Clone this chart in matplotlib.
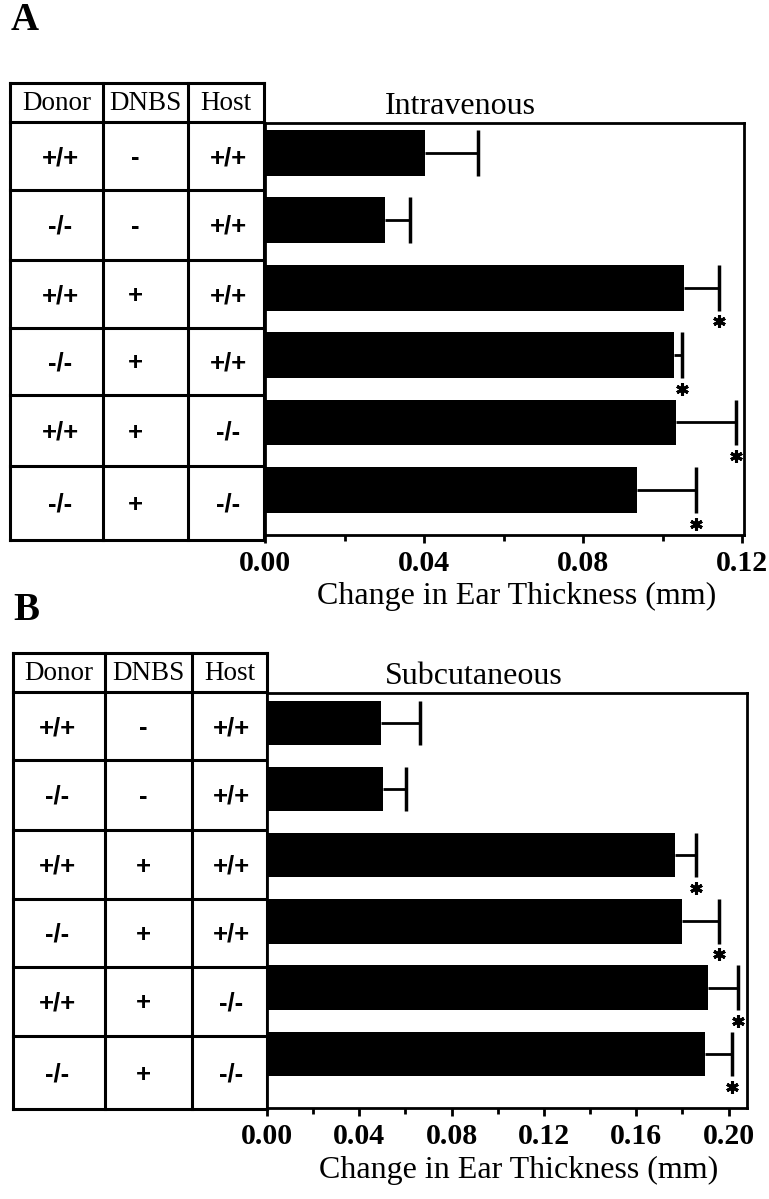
import matplotlib
matplotlib.use("Agg")
import matplotlib.pyplot as plt
from matplotlib.ticker import MultipleLocator, FormatStrFormatter

# table columns
headers = ["Donor", "DNBS", "Host"]
donor = ["+/+", "-/-", "+/+", "-/-", "+/+", "-/-"]
dnbs = ["-", "-", "+", "+", "+", "+"]
host = ["+/+", "+/+", "+/+", "+/+", "-/-", "-/-"]

# A - intravenous
iv_mean = [0.0402, 0.0302, 0.1055, 0.1028, 0.1033, 0.0935]
iv_err = [0.0133, 0.0062, 0.0088, 0.0020, 0.0153, 0.0150]
iv_sig = [False, False, True, True, True, True]

# B - subcutaneous
sc_mean = [0.0495, 0.0503, 0.1770, 0.1800, 0.1909, 0.1896]
sc_err = [0.0169, 0.0100, 0.0087, 0.0160, 0.0130, 0.0117]
sc_sig = [False, False, True, True, True, True]

W, H = 769, 1199
SERIF = "Liberation Serif"
SANS = "Liberation Sans"

fig = plt.figure(figsize=(W / 100, H / 100), dpi=100)

# pixel overlay for the tables and panel letters
ov = fig.add_axes([0, 0, 1, 1])
ov.set_xlim(0, W)
ov.set_ylim(H, 0)
ov.axis("off")


def draw_table(cols, rows, xoff):
    # cols: x of vertical lines, rows: y of horizontal lines (first = top of header)
    for x in cols:
        ov.plot([x, x], [rows[0], rows[-1]], color="black", lw=2.2, solid_capstyle="projecting")
    for y in rows:
        ov.plot([cols[0], cols[-1]], [y, y], color="black", lw=2.2, solid_capstyle="projecting")
    for j, h in enumerate(headers):
        cx = (cols[j] + cols[j + 1]) / 2
        ov.text(cx, (rows[0] + rows[1]) / 2 + 1, h, family=SERIF, fontsize=19.5,
                ha="center", va="center")
    for i in range(len(donor)):
        cy = (rows[i + 1] + rows[i + 2]) / 2 + 2
        for j, col in enumerate([donor, dnbs, host]):
            cx = (cols[j] + cols[j + 1]) / 2 + xoff[j]
            ov.text(cx, cy, col[i], family=SANS, fontweight="bold", fontsize=18.5,
                    ha="center", va="center")


def draw_panel(rect, mean, err, sig, xmax, ticks, title, title_x, bar_h, ylim):
    ax = fig.add_axes(rect)
    y = list(range(len(mean)))
    ax.barh(y, mean, height=bar_h, color="black", zorder=2)
    ends = [m + e for m, e in zip(mean, err)]
    ax.hlines(y, mean, ends, color="black", lw=2)
    ax.vlines(ends, [v - bar_h / 2 for v in y], [v + bar_h / 2 for v in y],
              color="black", lw=2.5)
    for i, s in enumerate(sig):
        if s:
            ax.plot([ends[i]], [y[i] + 0.5], marker=(6, 2, 0), ms=9, mew=2.2,
                    color="black", clip_on=False, zorder=3)
    ax.set_xlim(0, xmax)
    ax.set_ylim(*ylim)
    ax.set_yticks([])
    ax.set_xticks(ticks)
    ax.xaxis.set_minor_locator(MultipleLocator(0.02))
    ax.xaxis.set_major_formatter(FormatStrFormatter("%.2f"))
    ax.tick_params(axis="x", which="major", length=6, width=2, pad=5)
    ax.tick_params(axis="x", which="minor", length=4, width=2)
    for lab in ax.get_xticklabels():
        lab.set_family(SERIF)
        lab.set_fontweight("bold")
        lab.set_fontsize(21.5)
    for sp in ax.spines.values():
        sp.set_linewidth(2)
    ax.set_xlabel("Change in Ear Thickness (mm)", family=SERIF, fontsize=23)
    ax.xaxis.set_label_coords(0.525, -0.115)
    ax.text(title_x, 1.005, title, transform=ax.transAxes, family=SERIF, fontsize=23,
            ha="center", va="bottom")
    return ax


# panel A
draw_table([10, 103, 188, 264], [83, 122, 190, 260, 328, 395, 466, 540], [4, -10, 2])
draw_panel([265 / W, 1 - 535 / H, 479 / W, 412 / H], iv_mean, iv_err, iv_sig,
           0.1205, [0.00, 0.04, 0.08, 0.12], "Intravenous", 0.407, 0.68, (5.67, -0.445))
ov.text(11, 21, "A", family=SERIF, fontweight="bold", fontsize=28, ha="left", va="center")

# panel B
draw_table([13, 105, 192, 267], [653, 692, 760, 830, 899, 967, 1036, 1109], [-2, -5, 2])
draw_panel([267 / W, 1 - 1108 / H, 480 / W, 415 / H], sc_mean, sc_err, sc_sig,
           0.208, [0.00, 0.04, 0.08, 0.12, 0.16, 0.20], "Subcutaneous", 0.431, 0.67,
           (5.82, -0.45))
ov.text(13, 611, "B", family=SERIF, fontweight="bold", fontsize=28, ha="left", va="center")

fig.savefig("out.png", dpi=100, facecolor="white")
